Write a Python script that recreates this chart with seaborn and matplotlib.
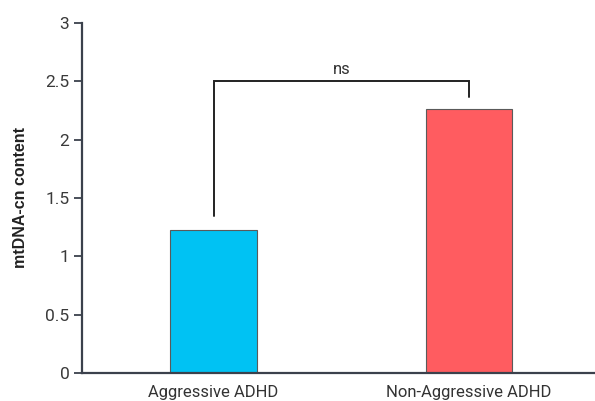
import matplotlib
matplotlib.use("Agg")
import matplotlib.pyplot as plt
import seaborn as sns
import pandas as pd

groups = ["Aggressive ADHD", "Non-Aggressive ADHD"]
mtdna_cn = [1.225, 2.26]
bar_colors = ["#00C2F3", "#FF5C60"]
y_ticks = [0, 0.5, 1, 1.5, 2, 2.5, 3]
y_tick_labels = ["0", "0.5", "1", "1.5", "2", "2.5", "3"]
sig_label = "ns"
bracket_y = 2.5
bracket_left_end = 1.35
bracket_right_end = 2.37

sns.set_theme(style="white")
plt.rcParams["font.family"] = ["Roboto", "DejaVu Sans"]

df = pd.DataFrame({"group": groups, "value": mtdna_cn})

fig = plt.figure(figsize=(5.95, 4.01), dpi=100)
ax = fig.add_axes([82 / 595, 28 / 401, 1 - 82 / 595, 350 / 401])

sns.barplot(data=df, x="group", y="value", hue="group", palette=bar_colors,
            saturation=1, width=0.34, edgecolor="#5a5a5a", linewidth=0.8,
            legend=False, ax=ax)

ax.set_xlim(-0.515, 1.493)
ax.set_ylim(0, 3)
ax.set_yticks(y_ticks)
ax.set_yticklabels(y_tick_labels)

axis_col = "#3b414c"
for side in ["top", "right"]:
    ax.spines[side].set_visible(False)
for side in ["left", "bottom"]:
    ax.spines[side].set_color(axis_col)
    ax.spines[side].set_linewidth(1.6)

ax.tick_params(axis="y", which="both", left=True, length=6, width=1.3,
               color=axis_col, labelsize=12.5, labelcolor="#3a3a3a", pad=3)
ax.tick_params(axis="x", bottom=False, labelsize=12, labelcolor="#333333", pad=3)

ax.set_xlabel("")
ax.set_ylabel("mtDNA-cn content", fontsize=11.5, fontweight="bold",
              family=["Liberation Sans", "DejaVu Sans"], color="#222222")
ax.yaxis.set_label_coords(-(82 - 21) / 513, 0.5)
ax.yaxis.label.set_va("center")

# significance bracket between the two groups
ax.plot([0, 0, 1, 1], [bracket_left_end, bracket_y, bracket_y, bracket_right_end],
        color="#222222", linewidth=1.4, solid_joinstyle="miter", clip_on=False)
ax.text(0.5, bracket_y + 0.04, sig_label, ha="center", va="bottom",
        fontsize=12, color="#333333")

fig.savefig("out.png", dpi=100, facecolor="white")
